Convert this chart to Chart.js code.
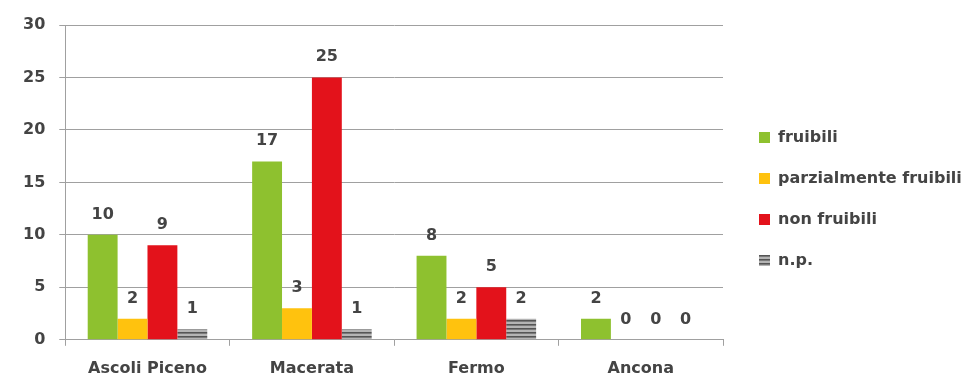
<!DOCTYPE html>
<html>
<head>
<meta charset="utf-8">
<script src="https://cdn.jsdelivr.net/npm/chart.js@4"></script>
<style>
  html, body { margin: 0; padding: 0; background: #fff; }
  #wrap { width: 970px; height: 377px; position: relative; }
</style>
</head>
<body>
<div id="wrap"><canvas id="chart"></canvas></div>
<script>
const categories = ["Ascoli Piceno", "Macerata", "Fermo", "Ancona"];
const seriesNames = ["fruibili", "parzialmente fruibili", "non fruibili", "n.p."];
const fruibili = [10, 17, 8, 2];
const parzialmente = [2, 3, 2, 0];
const nonFruibili = [9, 25, 5, 0];
const np = [1, 1, 2, 0];
const yTicks = [0, 5, 10, 15, 20, 25, 30];

// striped fill for n.p.
function stripes() {
  let c = document.createElement("canvas");
  c.width = 4; c.height = 4;
  let g = c.getContext("2d");
  g.fillStyle = "#b4b4b4";
  g.fillRect(0, 0, 4, 4);
  g.fillStyle = "#555";
  g.fillRect(0, 0, 4, 1.6);
  return g.createPattern(c, "repeat");
}

const FONT = "'DejaVu Sans', sans-serif";
const TEXT = "#444";

const valueLabels = {
  id: "valueLabels",
  afterDatasetsDraw(chart) {
    let ctx = chart.ctx;
    ctx.save();
    ctx.font = "bold 16px " + FONT;
    ctx.fillStyle = TEXT;
    ctx.textAlign = "center";
    ctx.textBaseline = "alphabetic";
    chart.data.datasets.forEach((ds, i) => {
      chart.getDatasetMeta(i).data.forEach((bar, j) => {
        ctx.fillText(String(ds.data[j]), bar.x, bar.y - 16);
      });
    });
    ctx.restore();
  }
};

// legend sits further right than chart.js would put it
const legendShift = {
  id: "legendShift",
  afterInit(chart) {
    let lg = chart.legend;
    let fit = lg.fit.bind(lg);
    lg.fit = function () { fit(); this.width = 247; };
    let draw = lg.draw.bind(lg);
    lg.draw = function () {
      chart.ctx.save();
      chart.ctx.translate(11, -9);
      draw();
      chart.ctx.restore();
    };
  }
};

let ctx = document.getElementById("chart").getContext("2d");
new Chart(ctx, {
  type: "bar",
  data: {
    labels: categories,
    datasets: [
      { label: seriesNames[0], data: fruibili, backgroundColor: "#8ec12f" },
      { label: seriesNames[1], data: parzialmente, backgroundColor: "#ffc20e" },
      { label: seriesNames[2], data: nonFruibili, backgroundColor: "#e3121b" },
      { label: seriesNames[3], data: np, backgroundColor: stripes() }
    ]
  },
  options: {
    responsive: true,
    maintainAspectRatio: false,
    animation: false,
    layout: { padding: { top: 25, left: 9, right: 0, bottom: -14 } },
    datasets: { bar: { categoryPercentage: 0.727, barPercentage: 1, borderWidth: 0 } },
    plugins: {
      tooltip: { enabled: false },
      legend: {
        position: "right",
        labels: {
          boxWidth: 11,
          boxHeight: 11,
          padding: 25,
          color: TEXT,
          font: { family: FONT, size: 16, weight: "bold" }
        }
      }
    },
    scales: {
      x: {
        grid: { drawOnChartArea: false, drawTicks: true, tickLength: 6, color: "#a0a0a0", offset: true },
        border: { color: "#a0a0a0" },
        ticks: { color: TEXT, padding: 13, font: { family: FONT, size: 16, weight: "bold" } }
      },
      y: {
        min: 0,
        max: 30,
        afterBuildTicks(axis) { axis.ticks = yTicks.map(v => ({ value: v })); },
        grid: { color: "#a0a0a0", tickLength: 6 },
        border: { color: "#a0a0a0" },
        ticks: { color: TEXT, padding: 14, font: { family: FONT, size: 16, weight: "bold" } }
      }
    }
  },
  plugins: [valueLabels, legendShift]
});
</script>
</body>
</html>
